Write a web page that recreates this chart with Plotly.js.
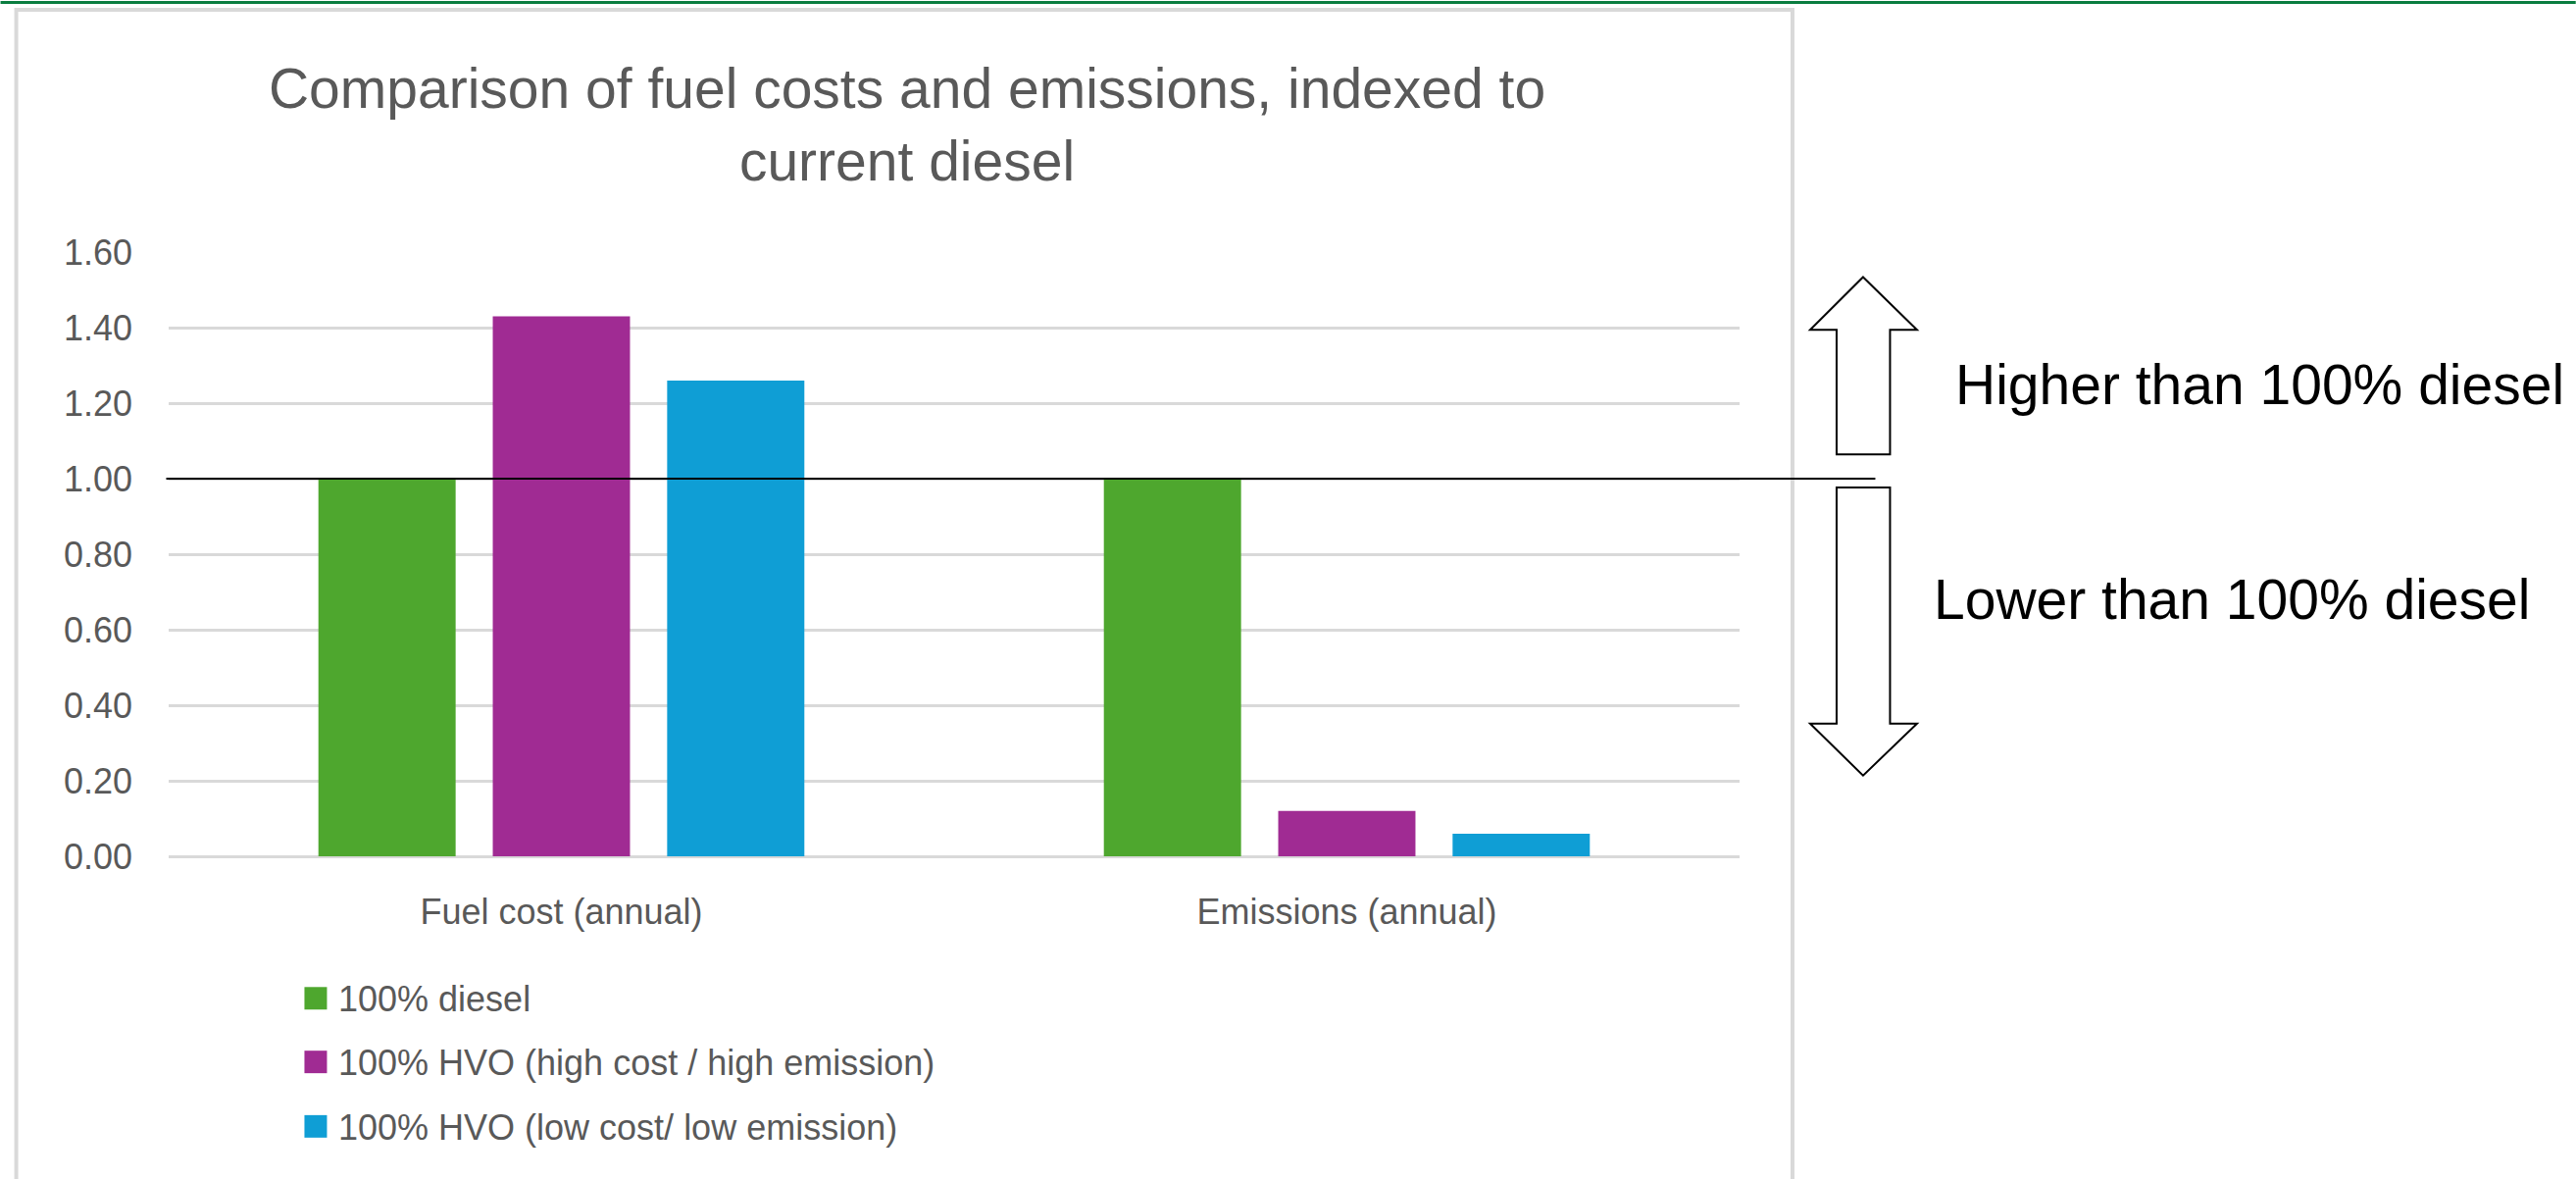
<!DOCTYPE html>
<html>
<head>
<meta charset="utf-8">
<script src="https://cdn.plot.ly/plotly-3.0.1.min.js"></script>
<style>
  html, body { margin: 0; padding: 0; background: #ffffff; }
  #chart { width: 2627px; height: 1202px; }
</style>
</head>
<body>
<div id="chart"></div>
<script>
// Categories on the x axis
const categories = ['Fuel cost (annual)', 'Emissions (annual)'];

// Series names, values (indexed to current diesel = 1.00) and colours
const seriesNames = [
  '100% diesel',
  '100% HVO (high cost / high emission)',
  '100% HVO (low cost/ low emission)'
];
const dieselValues = [1.00, 1.00];
const hvoHighValues = [1.43, 0.12];
const hvoLowValues = [1.26, 0.06];
const seriesColors = ['#4EA72E', '#A02B93', '#0F9ED5'];

// Y axis ticks
const yTickValues = [0, 0.2, 0.4, 0.6, 0.8, 1.0, 1.2, 1.4, 1.6];
const yTickLabels = ['0.00', '0.20', '0.40', '0.60', '0.80', '1.00', '1.20', '1.40', '1.60'];

// Side notes beside the arrows
const noteAbove = 'Higher than 100% diesel';
const noteBelow = 'Lower than 100% diesel';
const chartTitle = 'Comparison of fuel costs and emissions, indexed to<br>current diesel';

// Page geometry (pixels)
const PAGE_W = 2627, PAGE_H = 1202;
const PL = 171.5, PR = 1774, PT = 256.5, PB = 873.5;
const fx = p => (p - PL) / (PR - PL);   // page x -> paper x
const fy = p => (PB - p) / (PB - PT);   // page y -> paper y

const allValues = [dieselValues, hvoHighValues, hvoLowValues];
const traces = seriesNames.map((name, i) => ({
  type: 'bar',
  name: name,
  x: categories,
  y: allValues[i],
  marker: { color: seriesColors[i], line: { width: 0 } },
  hoverinfo: 'x+y+name',
  showlegend: false
}));

const textGrey = '#595959';
const baseFont = 'Liberation Sans, Arial, sans-serif';

function pathFromPoints(pts) {
  return 'M' + pts.map(p => fx(p[0]).toFixed(5) + ',' + fy(p[1]).toFixed(5)).join(' L') + ' Z';
}

const upArrow = [
  [1900, 282], [1955, 336], [1927.5, 336], [1927.5, 463],
  [1873, 463], [1873, 336], [1846, 336]
];
const downArrow = [
  [1873, 497], [1927.5, 497], [1927.5, 738], [1955, 738],
  [1900, 791], [1846, 738], [1873, 738]
];

const shapes = [
  // frame around the chart area
  {
    type: 'rect', xref: 'paper', yref: 'paper', layer: 'below',
    x0: fx(16), x1: fx(1828), y0: fy(1215), y1: fy(9),
    line: { color: '#d9d9d9', width: 4 }, fillcolor: 'rgba(0,0,0,0)'
  },
  // thin green rule along the top edge
  {
    type: 'rect', xref: 'paper', yref: 'paper', layer: 'above',
    x0: fx(0), x1: fx(PAGE_W), y0: fy(3), y1: fy(0),
    line: { width: 0 }, fillcolor: '#0A7D40'
  },
  // reference line at 1.00
  {
    type: 'line', xref: 'paper', yref: 'y', layer: 'above',
    x0: fx(169), x1: fx(1912.5), y0: 1, y1: 1,
    line: { color: '#000000', width: 2.2 }
  },
  {
    type: 'path', xref: 'paper', yref: 'paper', layer: 'above',
    path: pathFromPoints(upArrow),
    line: { color: '#000000', width: 2 }, fillcolor: '#ffffff'
  },
  {
    type: 'path', xref: 'paper', yref: 'paper', layer: 'above',
    path: pathFromPoints(downArrow),
    line: { color: '#000000', width: 2 }, fillcolor: '#ffffff'
  }
];

const annotations = [
  {
    xref: 'paper', yref: 'paper', x: fx(1992), y: fy(392),
    xanchor: 'left', yanchor: 'middle', showarrow: false,
    text: noteAbove, font: { family: baseFont, size: 57, color: '#000000' }
  },
  {
    xref: 'paper', yref: 'paper', x: fx(1970), y: fy(611),
    xanchor: 'left', yanchor: 'middle', showarrow: false,
    text: noteBelow, font: { family: baseFont, size: 57, color: '#000000' }
  }
];

// Legend entries: colour swatch plus series name, stacked vertically
const legendY = [1018.5, 1083.5, 1149.3];
seriesNames.forEach((name, i) => {
  shapes.push({
    type: 'rect', xref: 'paper', yref: 'paper', layer: 'above',
    x0: fx(310), x1: fx(333), y0: fy(legendY[i] + 11.5), y1: fy(legendY[i] - 11.5),
    line: { width: 0 }, fillcolor: seriesColors[i]
  });
  annotations.push({
    xref: 'paper', yref: 'paper', x: fx(343), y: fy(legendY[i] + 1),
    xanchor: 'left', yanchor: 'middle', showarrow: false,
    text: name, font: { family: baseFont, size: 36, color: textGrey }
  });
});

const layout = {
  width: PAGE_W,
  height: PAGE_H,
  paper_bgcolor: '#ffffff',
  plot_bgcolor: '#ffffff',
  margin: { l: PL, r: PAGE_W - PR, t: PT, b: PAGE_H - PB, pad: 0 },
  showlegend: false,
  barmode: 'group',
  bargap: 0.334,
  bargroupgap: 0.213,
  title: {
    text: chartTitle,
    xref: 'container', yref: 'container',
    x: 925 / PAGE_W, xanchor: 'center',
    y: 1 - 110 / PAGE_H, yanchor: 'top',
    font: { family: baseFont, size: 57, color: textGrey }
  },
  font: { family: baseFont, color: textGrey },
  xaxis: {
    type: 'category',
    categoryorder: 'array',
    categoryarray: categories,
    showgrid: false,
    showline: false,
    zeroline: false,
    ticks: '',
    ticklabelstandoff: 32,
    tickfont: { family: baseFont, size: 36, color: textGrey }
  },
  yaxis: {
    range: [0, 1.6],
    tickmode: 'array',
    tickvals: yTickValues,
    ticktext: yTickLabels,
    showgrid: true,
    gridcolor: '#d9d9d9',
    gridwidth: 2.5,
    zeroline: true,
    zerolinecolor: '#d9d9d9',
    zerolinewidth: 2.5,
    showline: false,
    ticks: '',
    ticklabelstandoff: 36,
    tickfont: { family: baseFont, size: 36, color: textGrey }
  },
  shapes: shapes,
  annotations: annotations
};

Plotly.newPlot('chart', traces, layout, { displayModeBar: false, responsive: false });
</script>
</body>
</html>
